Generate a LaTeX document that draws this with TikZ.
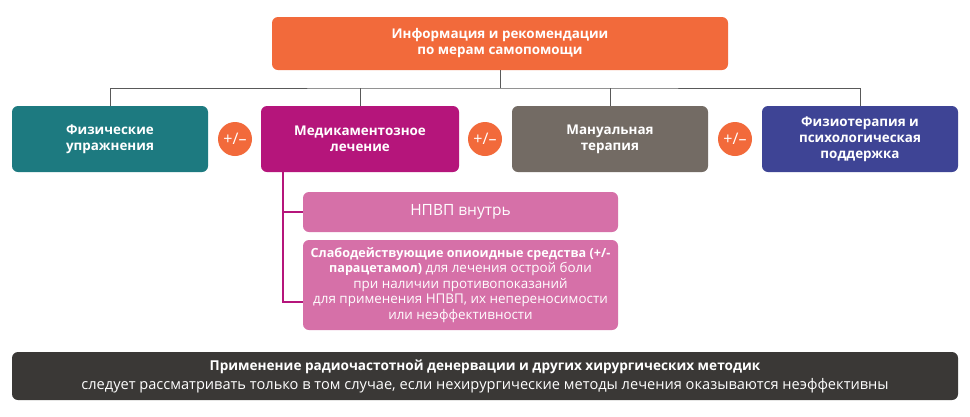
\documentclass[tikz,border=0pt]{standalone}
\usepackage{fontspec}
\setmainfont{Open Sans}
\begin{document}
\begin{tikzpicture}[x=1pt,y=-1pt,
 box/.style={rounded corners=6pt,text=white,font=\bfseries\fontsize{13.4}{16}\selectfont,align=center,inner sep=0pt},
 pm/.style={circle,fill=cOr,text=white,minimum size=34pt,inner sep=0pt,font=\fontsize{16}{18}\selectfont},
 ln/.style={draw=gray!70!black,line width=1pt}]
\definecolor{cOr}{HTML}{F26A3B}
\definecolor{cTe}{HTML}{1D7A80}
\definecolor{cMa}{HTML}{B5157B}
\definecolor{cGr}{HTML}{736B64}
\definecolor{cNa}{HTML}{3E4495}
\definecolor{cPi}{HTML}{D670A8}
\definecolor{cDk}{HTML}{3A3836}
\useasboundingbox (0,0) rectangle (970,416);
\fill[white] (0,0) rectangle (970,416);
\node[box,fill=cOr,minimum width=456pt,minimum height=53pt] (top) at (500,43.5) {Информация и рекомендации\\по мерам самопомощи};
\node[box,fill=cTe,minimum width=196pt,minimum height=66pt] (b1) at (110,139) {Физические\\упражнения};
\node[box,fill=cMa,minimum width=198pt,minimum height=66pt] (b2) at (360,139) {Медикаментозное\\лечение};
\node[box,fill=cGr,minimum width=196pt,minimum height=66pt] (b3) at (610,139) {Мануальная\\терапия};
\node[box,fill=cNa,minimum width=196pt,minimum height=66pt] (b4) at (860,139) {Физиотерапия и\\психологическая\\поддержка};
\node[pm] (p1) at (235,139) {+/--};
\node[pm] (p2) at (485,139) {+/--};
\node[pm] (p3) at (735,139) {+/--};
\coordinate (j) at (500,88);
\draw[ln] (top.south) -- (j);
\draw[ln] (b1.north) |- (j) -| (b4.north);
\draw[ln] (b2.north) -- (b2.north |- j);
\draw[ln] (b3.north) -- (b3.north |- j);
\node[box,fill=cPi,minimum width=315pt,minimum height=40pt,font=\fontsize{15.5}{17}\selectfont] (n1) at (460.5,212) {НПВП внутрь};
\node[box,fill=cPi,minimum width=315pt,minimum height=90pt,font=\fontsize{13.4}{15.5}\selectfont] (n2) at (460.5,285) {{\bfseries\fontsize{12.6}{15.5}\selectfont Слабодействующие опиоидные средства (+/-}\\{\bfseries\fontsize{12.6}{15.5}\selectfont парацетамол)} для лечения острой боли\\при наличии противопоказаний\\для применения НПВП, их непереносимости\\или неэффективности};
\coordinate (v) at (283,172);
\draw[cMa,line width=1.5pt] (v) |- (n2.west |- 0,302);
\draw[cMa,line width=1.5pt] (v |- n1.west) -- (n1.west);
\node[rounded corners=6pt,fill=cDk,text=white,minimum width=946pt,minimum height=48pt,align=center,inner sep=0pt,font=\fontsize{14.6}{19}\selectfont] (bot) at (485,376) {{\bfseries\fontsize{13.6}{19}\selectfont Применение радиочастотной денервации и других хирургических методик}\\следует рассматривать только в том случае, если нехирургические методы лечения оказываются неэффективны};
\end{tikzpicture}
\end{document}
